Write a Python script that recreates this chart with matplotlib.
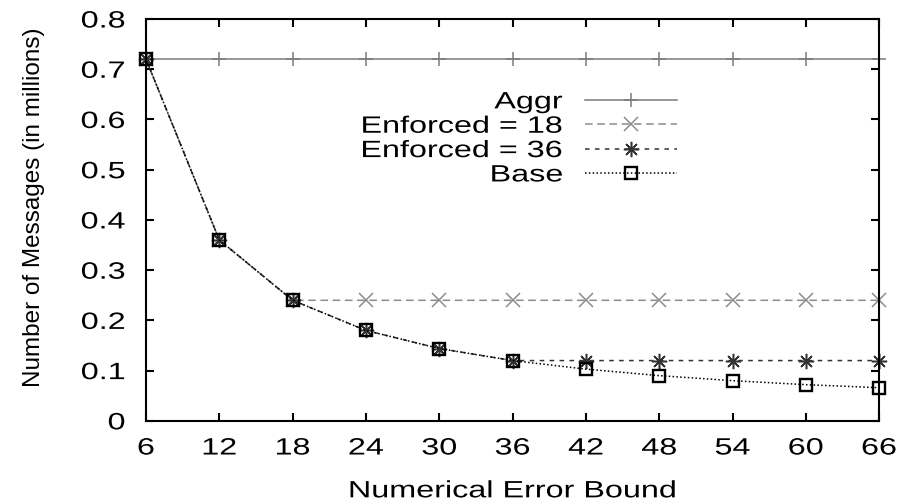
import matplotlib
matplotlib.use("Agg")
import matplotlib.pyplot as plt
from matplotlib.patheffects import AbstractPathEffect
from matplotlib.transforms import Affine2D

plt.rcParams['font.family'] = ['Liberation Sans', 'DejaVu Sans']

# numerical error bound values on the x axis
bounds = [6, 12, 18, 24, 30, 36, 42, 48, 54, 60, 66]

# number of messages in millions
aggr = [0.72, 0.72, 0.72, 0.72, 0.72, 0.72, 0.72, 0.72, 0.72, 0.72, 0.72]
enforced_18 = [0.72, 0.36, 0.24, 0.24, 0.24, 0.24, 0.24, 0.24, 0.24, 0.24, 0.24]
enforced_36 = [0.72, 0.36, 0.24, 0.18, 0.144, 0.12, 0.12, 0.12, 0.12, 0.12, 0.12]
base = [0.72, 0.36, 0.24, 0.18, 0.144, 0.12, 0.103, 0.09, 0.08, 0.072, 0.066]

yticks = [0, 0.1, 0.2, 0.3, 0.4, 0.5, 0.6, 0.7, 0.8]
ytick_labels = ['0', '0.1', '0.2', '0.3', '0.4', '0.5', '0.6', '0.7', '0.8']


# the original picture has wide lettering, so widen the glyphs a bit
class Widen(AbstractPathEffect):
    def __init__(self, sx=1.37, anchor='center'):
        super().__init__()
        self.sx = sx
        self.anchor = anchor

    def draw_path(self, renderer, gc, tpath, affine, rgbFace=None):
        ext = tpath.get_extents()
        if self.anchor == 'right':
            ref = ext.x1
        elif self.anchor == 'left':
            ref = ext.x0
        else:
            ref = (ext.x0 + ext.x1) / 2
        t = Affine2D().translate(-ref, 0).scale(self.sx, 1).translate(ref, 0) + affine
        renderer.draw_path(gc, tpath, t, rgbFace)


fig = plt.figure(figsize=(8.98, 5.01), dpi=100)
ax = fig.add_axes([0.1626, 0.160, 0.8164, 0.802])

ax.plot(bounds, aggr, color='#7a7a7a', lw=1.1, marker='+', ms=10, mew=1.1,
        label='Aggr', clip_on=False)
ax.plot(bounds, enforced_18, color='#8c8c8c', lw=1.1, ls=(0, (5, 3)),
        marker='x', ms=10, mew=1.1, label='Enforced = 18', clip_on=False)
ax.plot(bounds, enforced_36, color='#333333', lw=1.1, ls=(0, (3, 3.5)),
        marker=(8, 2, 0), ms=11, mew=1.1, label='Enforced = 36', clip_on=False)
ax.plot(bounds, base, color='black', lw=1.1, ls=(0, (1, 1.5)),
        marker='s', ms=9, mfc='none', mec='black', mew=1.7, label='Base',
        clip_on=False)

ax.set_xlim(6, 66)
ax.set_ylim(0, 0.8)
ax.set_xticks(bounds)
ax.set_yticks(yticks)
ax.set_yticklabels(ytick_labels)
ax.tick_params(direction='in', length=6, width=1.5, top=True, right=True,
               labelsize=17)
ax.tick_params(axis='x', pad=12)
ax.tick_params(axis='y', pad=15)
for s in ax.spines.values():
    s.set_linewidth(1.5)

for lab in ax.get_xticklabels():
    lab.set_path_effects([Widen(anchor='center')])
for lab in ax.get_yticklabels():
    lab.set_path_effects([Widen(anchor='right')])

xl = ax.set_xlabel('Numerical Error Bound', fontsize=17, labelpad=15)
xl.set_path_effects([Widen(anchor='center')])
ax.set_ylabel('Number of Messages (in millions)', fontsize=17.5)
ax.yaxis.set_label_coords(-0.138, 0.532)

leg = ax.legend(loc='upper right', bbox_to_anchor=(0.724, 0.82), frameon=False,
                markerfirst=False, fontsize=17, handlelength=3.9,
                labelspacing=0.1, handletextpad=0.93, borderpad=0,
                borderaxespad=0)
for t in leg.get_texts():
    t.set_path_effects([Widen(anchor='right')])

fig.savefig('out.png', dpi=100)
